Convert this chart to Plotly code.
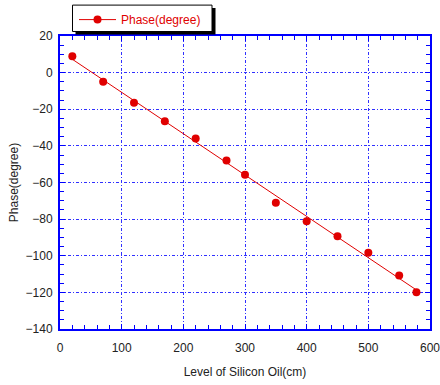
import numpy as np
import plotly.graph_objects as go

level_cm = [20, 70, 120, 170, 220, 270, 300, 350, 400, 450, 500, 550, 578]
phase_deg = [9, -5, -16.5, -26.5, -36, -48, -55.7, -71, -81.2, -89.3, -98.3, -110.8, -119.9]
series_name = "Phase(degree)"
x_title = "Level of Silicon Oil(cm)"
y_title = "Phase(degree)"

RED = "#e00000"
BLUE = "#0000ff"
GRID = "#3030ff"
FONT = "Liberation Sans, Arial, sans-serif"

slope, intercept = np.polyfit(level_cm, phase_deg, 1)
fit_x = [min(level_cm), max(level_cm)]
fit_y = [slope * v + intercept for v in fit_x]

fig = go.Figure()
fig.add_trace(go.Scatter(x=fit_x, y=fit_y, mode="lines",
                         line=dict(color=RED, width=1), showlegend=False, hoverinfo="skip"))
fig.add_trace(go.Scatter(x=level_cm, y=phase_deg, mode="markers",
                         marker=dict(color=RED, size=8), showlegend=False))
fig.add_trace(go.Scatter(x=[None], y=[None], mode="lines+markers", name=series_name,
                         line=dict(color=RED, width=1), marker=dict(color=RED, size=8)))

axis_common = dict(
    showline=True, linecolor=BLUE, linewidth=2, mirror="allticks",
    ticks="inside", tickcolor=BLUE, ticklen=5, tickwidth=1,
    showgrid=True, gridcolor=GRID, gridwidth=1, griddash="3px,2px,1px,2px",
    zeroline=False, ticklabeloverflow="allow",
    tickfont=dict(family=FONT, size=12, color="#222"),
)

fig.update_xaxes(range=[0, 600], dtick=100, tick0=0, ticklabelstandoff=7,
                 minor=dict(dtick=20, ticks="inside", ticklen=4, tickcolor=BLUE, showgrid=False),
                 title=dict(text=x_title, font=dict(family=FONT, size=12, color="#222"), standoff=13),
                 **axis_common)
fig.update_yaxes(range=[-140, 20], dtick=20, tick0=0, ticklabelstandoff=3,
                 minor=dict(dtick=5, ticks="inside", ticklen=4, tickcolor=BLUE, showgrid=False),
                 title=dict(text=y_title, font=dict(family=FONT, size=12, color="#222"), standoff=4),
                 **axis_common)

# coordinates below are window pixels (page body margin removed)
def px_to_paper_x(px):
    return (px - 60) / 370.0

def px_to_paper_y(py):
    return 1 + (36 - py) / 294.0

# legend box shadow and frame
fig.add_shape(type="rect", xref="paper", yref="paper",
              x0=px_to_paper_x(75.5), x1=px_to_paper_x(215.5),
              y0=px_to_paper_y(34.5), y1=px_to_paper_y(8),
              fillcolor="black", line=dict(width=0), layer="above")
fig.add_shape(type="rect", xref="paper", yref="paper",
              x0=px_to_paper_x(72.5), x1=px_to_paper_x(212),
              y0=px_to_paper_y(31.5), y1=px_to_paper_y(5),
              fillcolor="white", line=dict(width=1, color="black"), layer="above")

fig.update_layout(
    width=440, height=385,
    margin=dict(l=60, r=10, t=36, b=56, autoexpand=False),
    paper_bgcolor="white", plot_bgcolor="white",
    font=dict(family=FONT, size=12, color="#222"),
    showlegend=True,
    legend=dict(x=px_to_paper_x(74), y=px_to_paper_y(5), xanchor="left", yanchor="top",
                bgcolor="rgba(0,0,0,0)", borderwidth=0, itemwidth=37,
                font=dict(family=FONT, size=12, color=RED)),
)

fig.write_html("out.html", config={"displayModeBar": False},
               post_script="document.body.style.margin='0';")
